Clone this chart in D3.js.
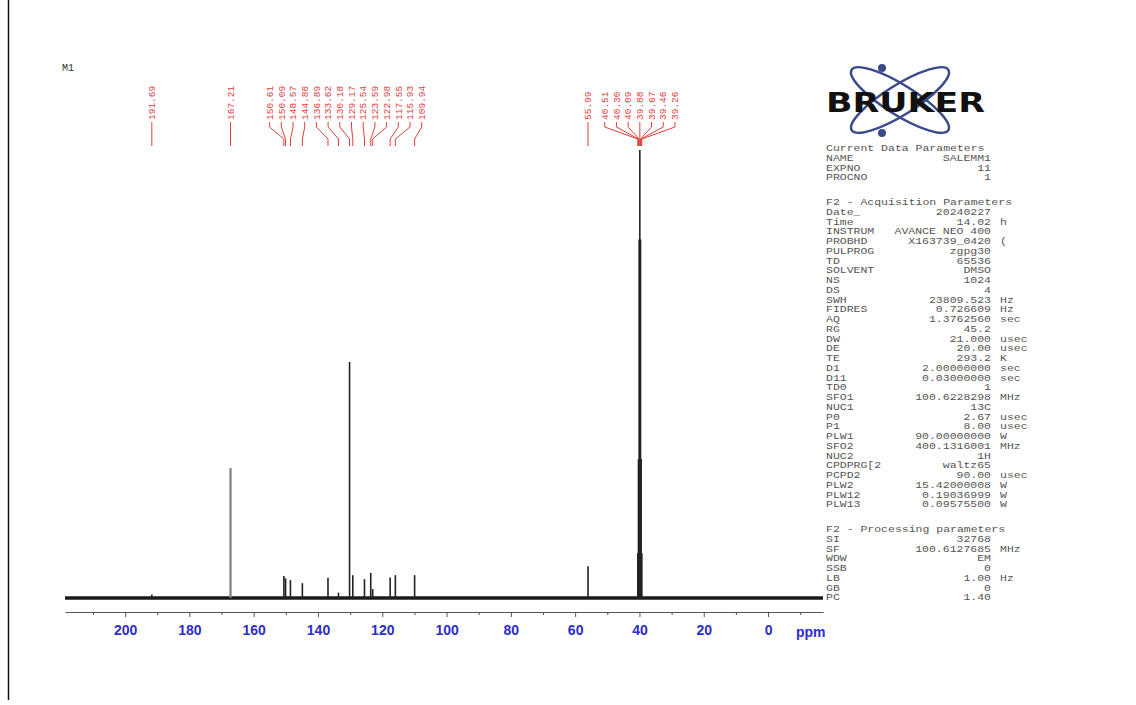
<!DOCTYPE html>
<html>
<head>
<meta charset="utf-8">
<script src="https://cdn.jsdelivr.net/npm/d3@7"></script>
<style>
  body { margin: 0; background: #fff; }
  svg { display: block; }
</style>
</head>
<body>
<script>
// picked peaks: shift in ppm and height relative to the DMSO centre line (= 100)
const peakPpm = [191.69, 167.21, 150.61, 150.09, 148.57, 144.86, 136.89, 133.62, 130.18, 129.17,
                 125.54, 123.59, 122.98, 117.55, 115.93, 109.94, 55.99,
                 40.51, 40.30, 40.09, 39.88, 39.67, 39.46, 39.26];
const peakHeight = [0.8, 29.0, 4.9, 4.4, 4.0, 3.3, 4.5, 1.2, 52.7, 5.1,
                    4.2, 5.6, 2.0, 4.6, 5.1, 5.1, 7.1,
                    10, 31, 80, 100, 80, 31, 10];
const xTicks = [200, 180, 160, 140, 120, 100, 80, 60, 40, 20, 0];
const xMinorTicks = [210, 190, 170, 150, 130, 110, 90, 70, 50, 30, 10, -10];

const currentParams = [["NAME", "SALEMM1", ""], ["EXPNO", "11", ""], ["PROCNO", "1", ""]];
const acqParams = [
  ["Date_", "20240227", ""], ["Time", "14.02", "h"], ["INSTRUM", "AVANCE NEO 400", ""],
  ["PROBHD", "X163739_0420", "("], ["PULPROG", "zgpg30", ""], ["TD", "65536", ""],
  ["SOLVENT", "DMSO", ""], ["NS", "1024", ""], ["DS", "4", ""],
  ["SWH", "23809.523", "Hz"], ["FIDRES", "0.726609", "Hz"], ["AQ", "1.3762560", "sec"],
  ["RG", "45.2", ""], ["DW", "21.000", "usec"], ["DE", "20.00", "usec"],
  ["TE", "293.2", "K"], ["D1", "2.00000000", "sec"], ["D11", "0.03000000", "sec"],
  ["TD0", "1", ""], ["SFO1", "100.6228298", "MHz"], ["NUC1", "13C", ""],
  ["P0", "2.67", "usec"], ["P1", "8.00", "usec"], ["PLW1", "90.00000000", "W"],
  ["SFO2", "400.1316001", "MHz"], ["NUC2", "1H", ""], ["CPDPRG[2", "waltz65", ""],
  ["PCPD2", "90.00", "usec"], ["PLW2", "15.42000008", "W"], ["PLW12", "0.19036999", "W"],
  ["PLW13", "0.09575500", "W"]
];
const procParams = [
  ["SI", "32768", ""], ["SF", "100.6127685", "MHz"], ["WDW", "EM", ""], ["SSB", "0", ""],
  ["LB", "1.00", "Hz"], ["GB", "0", ""], ["PC", "1.40", ""]
];

const width = 1136, height = 705,
      svg = d3.select("body").append("svg")
        .attr("width", width)
        .attr("height", height),

      x = d3.scaleLinear().domain([218.7, -17.1]).range([65, 823]),
      y = d3.scaleLinear().domain([0, 100]).range([598, 150]),

      xAxis = d3.axisBottom(x)
        .tickValues(xTicks)
        .tickFormat(d3.format("d"))
        .tickSize(5)
        .tickSizeOuter(0)
        .tickPadding(8),
      xMinor = d3.axisBottom(x)
        .tickValues(xMinorTicks)
        .tickFormat("")
        .tickSize(3)
        .tickSizeOuter(0);

// frame line on the left edge
svg.append("line")
  .attr("x1", 8.5).attr("x2", 8.5)
  .attr("y1", 0).attr("y2", 700)
  .attr("stroke", "#111").attr("stroke-width", 1.5);

svg.append("text")
  .attr("x", 62).attr("y", 71)
  .attr("font-family", "Liberation Mono, monospace")
  .attr("font-size", 10)
  .attr("fill", "#333")
  .text("M1");

// baseline + peaks
svg.append("path")
  .datum(x.domain())
  .attr("d", d3.line().x(d => x(d)).y(() => y(0)))
  .attr("stroke", "#1a1a1a")
  .attr("stroke-width", 3.5)
  .attr("fill", "none");

const peaks = peakPpm.map((p, i) => ({ppm: p, h: peakHeight[i]}));

svg.append("g")
  .selectAll("line")
  .data(peaks).enter()
  .append("line")
  .attr("x1", d => x(d.ppm)).attr("x2", d => x(d.ppm))
  .attr("y1", y(0)).attr("y2", d => y(d.h))
  .attr("stroke", d => d.ppm > 160 && d.h > 20 ? "#808080" : "#222")
  .attr("stroke-width", d => d.ppm > 160 && d.h > 20 ? 2.2 : 1.6);

// axis
const gx = svg.append("g")
  .attr("transform", "translate(0,612)")
  .call(xAxis);
svg.append("g")
  .attr("transform", "translate(0,612)")
  .call(xMinor)
  .select(".domain").remove();

gx.select(".domain").attr("stroke", "#555");
svg.selectAll(".tick line").attr("stroke", "#555");
gx.selectAll("text")
  .attr("font-family", "Liberation Sans, Arial, sans-serif")
  .attr("font-size", 14)
  .attr("font-weight", "bold")
  .attr("fill", "#2d2dc8");

svg.append("text")
  .attr("x", 796).attr("y", 637)
  .attr("font-family", "Liberation Sans, Arial, sans-serif")
  .attr("font-size", 14)
  .attr("font-weight", "bold")
  .attr("fill", "#2d2dc8")
  .text("ppm");

// peak labels: spread colliding labels evenly around their mean position
const labelStep = 11.7;
let groups = peaks.map(d => ({items: [d], c: x(d.ppm)}));
let merged = true;
while (merged) {
  merged = false;
  for (let i = 0; i < groups.length - 1; i++) {
    const a = groups[i], b = groups[i + 1];
    const aRight = a.c + (a.items.length - 1) * labelStep / 2,
          bLeft = b.c - (b.items.length - 1) * labelStep / 2;
    if (bLeft - aRight < labelStep) {
      const items = a.items.concat(b.items);
      groups.splice(i, 2, {items: items, c: d3.mean(items, d => x(d.ppm))});
      merged = true;
      break;
    }
  }
}
const labels = [];
groups.forEach(g => g.items.forEach((d, j) => {
  labels.push({ppm: d.ppm, lx: g.c + (j - (g.items.length - 1) / 2) * labelStep});
}));

const red = "#e0403a";
const lab = svg.append("g").selectAll("g")
  .data(labels).enter()
  .append("g");

lab.append("text")
  .attr("transform", d => "translate(" + (d.lx + 3.2) + ",120) rotate(-90)")
  .attr("font-family", "Liberation Mono, monospace")
  .attr("font-size", 9.5)
  .attr("fill", red)
  .text(d => d.ppm.toFixed(2));

lab.append("path")
  .attr("d", d => "M" + d.lx + ",122V127L" + x(d.ppm) + ",139V146")
  .attr("stroke", red)
  .attr("stroke-width", 1)
  .attr("fill", "none");

// Bruker logo
const logo = svg.append("g");
[32, -32].forEach(a => {
  logo.append("ellipse")
    .attr("cx", 900).attr("cy", 100)
    .attr("rx", 57).attr("ry", 15)
    .attr("transform", "rotate(" + a + ",900,100)")
    .attr("fill", "none")
    .attr("stroke", "#3b4a8c")
    .attr("stroke-width", 2.5);
});
[[882, 68], [882, 133]].forEach(p => {
  logo.append("circle")
    .attr("cx", p[0]).attr("cy", p[1]).attr("r", 4)
    .attr("fill", "#3b4a8c");
});
logo.append("text")
  .attr("x", 826).attr("y", 112)
  .attr("font-family", "DejaVu Sans, sans-serif")
  .attr("font-weight", "bold")
  .attr("font-size", 27)
  .attr("textLength", 159)
  .attr("lengthAdjust", "spacingAndGlyphs")
  .attr("fill", "#111")
  .text("BRUKER");

// parameter listing
const pText = svg.append("g")
  .attr("font-family", "Liberation Mono, monospace")
  .attr("font-size", 11.5)
  .attr("fill", "#555");

function put(txt, px, py, anchor) {
  pText.append("text")
    .attr("transform", "translate(" + px + "," + py + ") scale(1,0.78)")
    .attr("text-anchor", anchor || "start")
    .text(txt);
}
function block(title, rows, top) {
  const step = 9.75;
  put(title, 826, top);
  rows.forEach((r, i) => {
    const py = top + (i + 1) * step;
    put(r[0], 826, py);
    put(r[1], 991, py, "end");
    if (r[2]) put(r[2], 1000, py);
  });
}
block("Current Data Parameters", currentParams, 151);
block("F2 - Acquisition Parameters", acqParams, 205);
block("F2 - Processing parameters", procParams, 532);
</script>
</body>
</html>
